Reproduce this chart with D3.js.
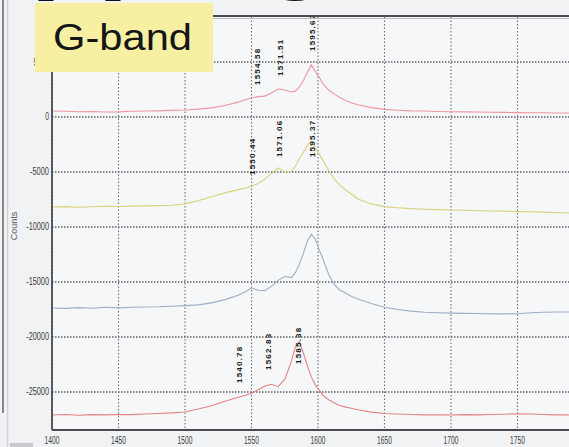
<!DOCTYPE html>
<html>
<head>
<meta charset="utf-8">
<script src="https://cdn.jsdelivr.net/npm/d3@7"></script>
<style>
    html, body { margin: 0; padding: 0; background: #f1f2f4; }
    svg { display: block; }
</style>
</head>
<body>
<svg width="569" height="447"></svg>
<script>

// Raman shift grid (cm-1) shared by the four spectra
const wavenumbers = [1400, 1410, 1420, 1430, 1440, 1450, 1460, 1470, 1480, 1490, 1500, 1510, 1520, 1530, 1540, 1545,
    1550, 1555, 1560, 1565, 1570, 1575, 1580, 1583, 1586, 1589, 1592, 1595, 1598, 1601, 1604, 1608, 1612, 1616, 1620,
    1625, 1630, 1640, 1650, 1660, 1670, 1680, 1690, 1700, 1710, 1720, 1730, 1740, 1750, 1760, 1770, 1780, 1790, 1800];

const countsTop = [545, 520, 480, 500, 450, 470, 520, 540, 560, 600, 640, 720, 830, 1050, 1350, 1545,
    1750, 1850, 1900, 2180, 2540, 2450, 2270, 2350, 2730, 3300, 4050, 4730, 4150, 3580, 3000, 2450, 2100, 1800, 1550,
    1300, 1120, 850, 690, 620, 560, 540, 500, 480, 470, 450, 430, 420, 400, 390, 380, 370, 360, 350];

const countsSecond = [-8180, -8150, -8200, -8160, -8120, -8140, -8100, -8080, -8060, -8020, -7900, -7600, -7250, -6900, -6600, -6480,
    -6300, -6050, -5650, -5150, -4640, -5000, -4950, -4450, -3800, -3200, -2600, -2200, -2800, -3400, -4000, -4850, -5600, -6150, -6550,
    -7000, -7450, -7900, -8150, -8250, -8330, -8380, -8420, -8450, -8480, -8520, -8540, -8560, -8600, -8620, -8650, -8700, -8730, -8750];

const countsThird = [-17360, -17400, -17330, -17380, -17300, -17350, -17290, -17270, -17250, -17200, -17150, -17080, -16900, -16600, -16200, -15900,
    -15550, -15750, -15800, -15400, -14850, -14500, -14600, -14150, -13400, -12400, -11300, -10650, -11100, -12100, -13000, -14300, -15200, -15700, -15950,
    -16300, -16550, -16950, -17300, -17500, -17650, -17750, -17800, -17830, -17850, -17870, -17900, -17900, -17880, -17800, -17750, -17730, -17730, -17740];

const countsBottom = [-27090, -27050, -27110, -27060, -27080, -27040, -27060, -27000, -26950, -26900, -26820, -26550, -26250, -25850, -25480, -25320,
    -25120, -24800, -24450, -24300, -24520, -23850, -22200, -20900, -20400, -21450, -22600, -23650, -24350, -24850, -25350, -25700, -25980, -26200, -26350,
    -26480, -26620, -26830, -26950, -27000, -27050, -27080, -27070, -27090, -27060, -27080, -27050, -27020, -26980, -27000, -27050, -27080, -27090, -27100];

// peak annotations: position and the count level where each label starts
const peaksTop = [1554.58, 1571.51, 1595.62];
const peakLabelCountsTop = [2910, 3730, 6000];
const peaksSecond = [1550.44, 1571.06, 1595.37];
const peakLabelCountsSecond = [-5270, -3640, -3640];
const peaksBottom = [1540.78, 1562.83, 1585.38];
const peakLabelCountsBottom = [-24180, -23000, -22450];

const xTicks = [1400, 1450, 1500, 1550, 1600, 1650, 1700, 1750, 1800];
const yTicks = [5000, 0, -5000, -10000, -15000, -20000, -25000];

const series = [
    { values: countsTop, color: "#f0959f", peaks: peaksTop, labelAt: peakLabelCountsTop },
    { values: countsSecond, color: "#d9d27c", peaks: peaksSecond, labelAt: peakLabelCountsSecond },
    { values: countsThird, color: "#9eaec6", peaks: [], labelAt: [] },
    { values: countsBottom, color: "#e58382", peaks: peaksBottom, labelAt: peakLabelCountsBottom }
];

const svg = d3.select("svg");
const plotLeft = 52, plotTop = 17, plotBottom = 430, plotRight = 584;

const x = d3.scaleLinear().domain([1400, 1800]).range([plotLeft, plotRight]);
const y = d3.scaleLinear().domain([-28455, 9091]).range([plotBottom, plotTop]);

svg.append("defs")
    .append("clipPath")
    .attr("id", "plot")
    .append("rect")
    .attr("x", plotLeft)
    .attr("y", plotTop)
    .attr("width", plotRight - plotLeft)
    .attr("height", plotBottom - plotTop);

// outer frame bits on the left
svg.append("rect")
    .attr("x", 0).attr("y", 0).attr("width", 569).attr("height", 447)
    .attr("fill", "#f1f2f4");

svg.append("line")
    .attr("x1", 3).attr("x2", 3).attr("y1", 0).attr("y2", 413)
    .attr("stroke", "#5a5a5a").attr("stroke-width", 1.4);

svg.append("line")
    .attr("x1", 7.5).attr("x2", 7.5).attr("y1", 0).attr("y2", 447)
    .attr("stroke", "#d2d3d6").attr("stroke-width", 1.5);

svg.append("rect")
    .attr("x", 10).attr("y", 443).attr("width", 23).attr("height", 4)
    .attr("fill", "#c9cacd");

// plot area
svg.append("rect")
    .attr("x", plotLeft).attr("y", plotTop)
    .attr("width", plotRight - plotLeft).attr("height", plotBottom - plotTop)
    .attr("fill", "#f6f7f9");

svg.append("g")
    .selectAll("line")
    .data(xTicks)
    .enter()
    .append("line")
    .attr("x1", (d) => x(d))
    .attr("x2", (d) => x(d))
    .attr("y1", plotTop)
    .attr("y2", plotBottom)
    .attr("stroke", "#6f7073")
    .attr("stroke-width", 1.1)
    .attr("stroke-dasharray", "1.5,2");

svg.append("g")
    .selectAll("line")
    .data(yTicks)
    .enter()
    .append("line")
    .attr("x1", plotLeft)
    .attr("x2", plotRight)
    .attr("y1", (d) => y(d))
    .attr("y2", (d) => y(d))
    .attr("stroke", "#616266")
    .attr("stroke-width", 1.3)
    .attr("stroke-dasharray", "1.5,1.5");

const line = d3.line()
    .x((d, i) => x(wavenumbers[i]))
    .y((d) => y(d));

const plot = svg.append("g").attr("clip-path", "url(#plot)");

plot.selectAll(".spectrum")
    .data(series)
    .enter()
    .append("path")
    .attr("class", "spectrum")
    .attr("d", (s) => line(s.values))
    .attr("fill", "none")
    .attr("stroke", (s) => s.color)
    .attr("stroke-width", 1.1);

const labels = series.flatMap((s) => s.peaks.map((p, i) => ({ peak: p, count: s.labelAt[i] })));

plot.selectAll(".peak")
    .data(labels)
    .enter()
    .append("text")
    .attr("class", "peak")
    .attr("transform", (d) => `translate(${x(d.peak)},${y(d.count)}) rotate(-90)`)
    .attr("dy", "0.35em")
    .attr("font-family", "Liberation Sans, Arial, sans-serif")
    .attr("font-size", 8)
    .attr("font-weight", "bold")
    .attr("letter-spacing", 1.2)
    .attr("fill", "#1e1e1e")
    .text((d) => d3.format(".2f")(d.peak));

// axes lines
svg.append("line")
    .attr("x1", plotLeft).attr("x2", plotLeft).attr("y1", plotTop).attr("y2", plotBottom)
    .attr("stroke", "#3a3a3c").attr("stroke-width", 1.6);

svg.append("line")
    .attr("x1", plotLeft).attr("x2", 569).attr("y1", plotBottom).attr("y2", plotBottom)
    .attr("stroke", "#4a4b4e").attr("stroke-width", 2);

svg.append("line")
    .attr("x1", plotLeft).attr("x2", 569).attr("y1", plotTop - 1).attr("y2", plotTop - 1)
    .attr("stroke", "#4b4c50").attr("stroke-width", 2);

svg.append("line")
    .attr("x1", plotLeft).attr("x2", 569).attr("y1", plotTop + 1.5).attr("y2", plotTop + 1.5)
    .attr("stroke", "#b9babd").attr("stroke-width", 1);

// tick labels are in a very condensed face, squeeze them to match
svg.append("g")
    .selectAll("text")
    .data(yTicks)
    .enter()
    .append("text")
    .attr("x", plotLeft - 3)
    .attr("y", (d) => y(d))
    .attr("dy", "0.35em")
    .attr("text-anchor", "end")
    .attr("font-family", "Liberation Sans, sans-serif")
    .attr("font-size", 10)
    .attr("textLength", (d) => String(d).length * 3.8)
    .attr("lengthAdjust", "spacingAndGlyphs")
    .attr("fill", "#3b3b3e")
    .text((d) => d);

svg.append("g")
    .selectAll("text")
    .data(xTicks.filter((d) => x(d) < 569))
    .enter()
    .append("text")
    .attr("x", (d) => x(d))
    .attr("y", 444)
    .attr("text-anchor", "middle")
    .attr("font-family", "Liberation Sans, sans-serif")
    .attr("font-size", 10)
    .attr("textLength", (d) => String(d).length * 3.7)
    .attr("lengthAdjust", "spacingAndGlyphs")
    .attr("fill", "#3b3b3e")
    .text((d) => d);

svg.append("text")
    .attr("transform", "translate(17,226) rotate(-90)")
    .attr("text-anchor", "middle")
    .attr("font-family", "Liberation Sans, sans-serif")
    .attr("font-size", 9)
    .attr("fill", "#55565a")
    .text("Counts");

// slide title, cropped off the top: only the descenders show
svg.append("text")
    .attr("x", 330)
    .attr("y", -22)
    .attr("text-anchor", "end")
    .attr("font-family", "Liberation Sans, Arial, sans-serif")
    .attr("font-size", 110)
    .attr("font-weight", "bold")
    .attr("fill", "#111")
    .text("Mapping");

svg.append("rect")
    .attr("x", 35).attr("y", 3).attr("width", 178).attr("height", 69)
    .attr("fill", "#f7f0a3");

svg.append("text")
    .attr("x", 53)
    .attr("y", 50)
    .attr("font-family", "Liberation Sans, Arial, sans-serif")
    .attr("font-size", 36)
    .attr("textLength", 139)
    .attr("lengthAdjust", "spacingAndGlyphs")
    .attr("fill", "#151515")
    .text("G-band");

</script>
</body>
</html>
